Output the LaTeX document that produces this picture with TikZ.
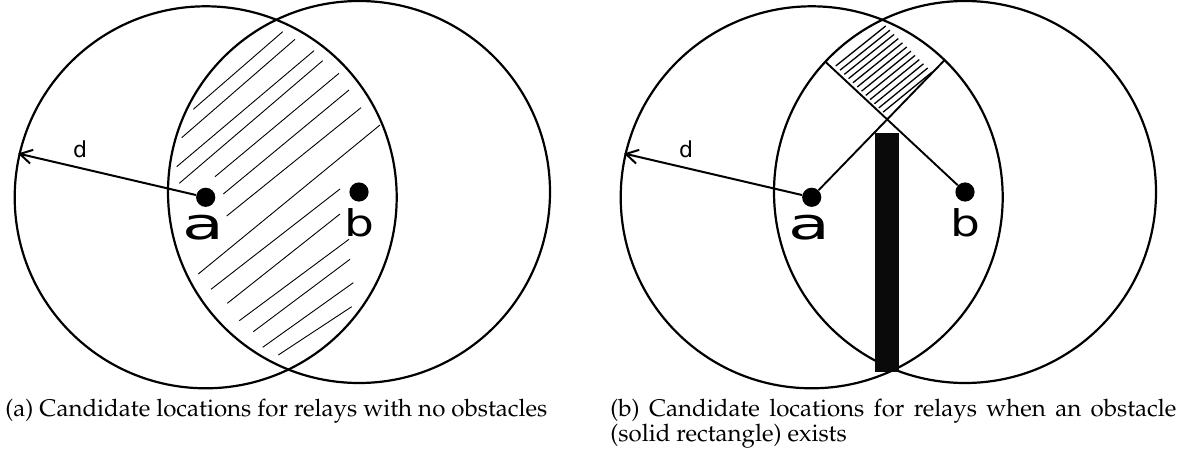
\documentclass[tikz,border=0pt]{standalone}
\usepackage{graphicx}
\usepackage{fontspec}
\newfontfamily\lblfont{DejaVu Sans}
\usetikzlibrary{arrows.meta}
\newcommand{\capfont}{\usefont{OT1}{ppl}{m}{n}\fontsize{12.03}{12.6}\selectfont}
\begin{document}
\begin{tikzpicture}[x=0.5pt,y=-0.5pt,
  circ/.style={line width=1.1pt},
  hatch/.style={line width=0.45pt},
  hatchb/.style={line width=0.65pt},
  radline/.style={line width=0.95pt},
  dot/.style={circle, fill=black, inner sep=0pt, minimum size=9.6pt},
  arrowline/.style={line width=1pt, -{Straight Barb[length=6pt,width=7pt,line width=1pt]}},
  lbla/.style={font=\lblfont\fontsize{21.75}{22}\selectfont, inner sep=0pt, anchor=base},
  lblb/.style={font=\lblfont\fontsize{18.4}{19}\selectfont, inner sep=0pt, anchor=base},
  lbld/.style={font=\lblfont\fontsize{11}{12}\selectfont, inner sep=0pt, anchor=base},
  captxt/.style={font=\capfont, inner sep=0pt},
  obst/.style={fill=black!96}]
\useasboundingbox (0,0) rectangle (1182,460);

% ---------- panel (a) ----------
\node[dot] (a1) at (205.7,197.3) {};
\node[dot] (b1) at (359,192) {};
\draw[circ] (a1.center) circle[radius=191];
\draw[circ] (b1.center) circle[radius=191];
\foreach \p/\q in {
  {193.3,109.3}/{282.7,31.7}, {181.7,137.7}/{295,39.3}, {176.7,166.7}/{314,50.7},
  {179.3,183.3}/{322.7,60.7}, {215,176.7}/{339,73.3}, {223.3,194}/{349,90},
  {226.7,216}/{361,107.7}, {198.3,274}/{380,125}, {211,289.3}/{340,189},
  {227.3,303.3}/{340,214}, {239.3,320.7}/{349,239.3}, {253.3,331.7}/{350,259.3},
  {262.7,347.3}/{353.3,282.7}, {278.3,355}/{351.7,306.7}}
  \draw[hatch] (\p) -- (\q);
\coordinate (t1) at (18,153.5);
\draw[arrowline] (a1) -- (t1);
\node[lbld] (d1) at (80,157.3) {d};
\node[lbla] (la1) at (203.4,239.3) {\scalebox{1.57}[1]{a}};
\node[lblb] (lb1) at (359,236.7) {\scalebox{1.28}[1]{b}};
\node[captxt, anchor=base west] (capa) at (5,416) {(a) Candidate locations for relays with no obstacles};

% ---------- panel (b) ----------
\node[dot] (a2) at (811.7,197.3) {};
\node[dot] (b2) at (965,192) {};
\draw[circ] (a2.center) circle[radius=191];
\draw[circ] (b2.center) circle[radius=191];
\coordinate (R2) at (944.6,60.1);
\coordinate (L2) at (825.3,61.7);
\draw[radline] (a2) -- (R2);
\draw[radline] (b2) -- (L2);
\foreach \i in {0,...,11}
  \draw[hatchb] (835.7+4.3*\i, 66+4.2*\i) -- (885.7+4.2*\i, 26+4.2*\i);
\fill[obst] (875,133) rectangle (899,372);
\coordinate (t2) at (624,153.5);
\draw[arrowline] (a2) -- (t2);
\node[lbld] (d2) at (686,157.3) {d};
\node[lbla] (la2) at (809.4,239.3) {\scalebox{1.57}[1]{a}};
\node[lblb] (lb2) at (965,236.7) {\scalebox{1.28}[1]{b}};
\node[captxt, anchor=base west, text width=283pt, align=justify] (capb) at (610,416)
  {(b) Candidate locations for relays when an obstacle\linebreak (solid rectangle) exists};
\end{tikzpicture}
\end{document}
